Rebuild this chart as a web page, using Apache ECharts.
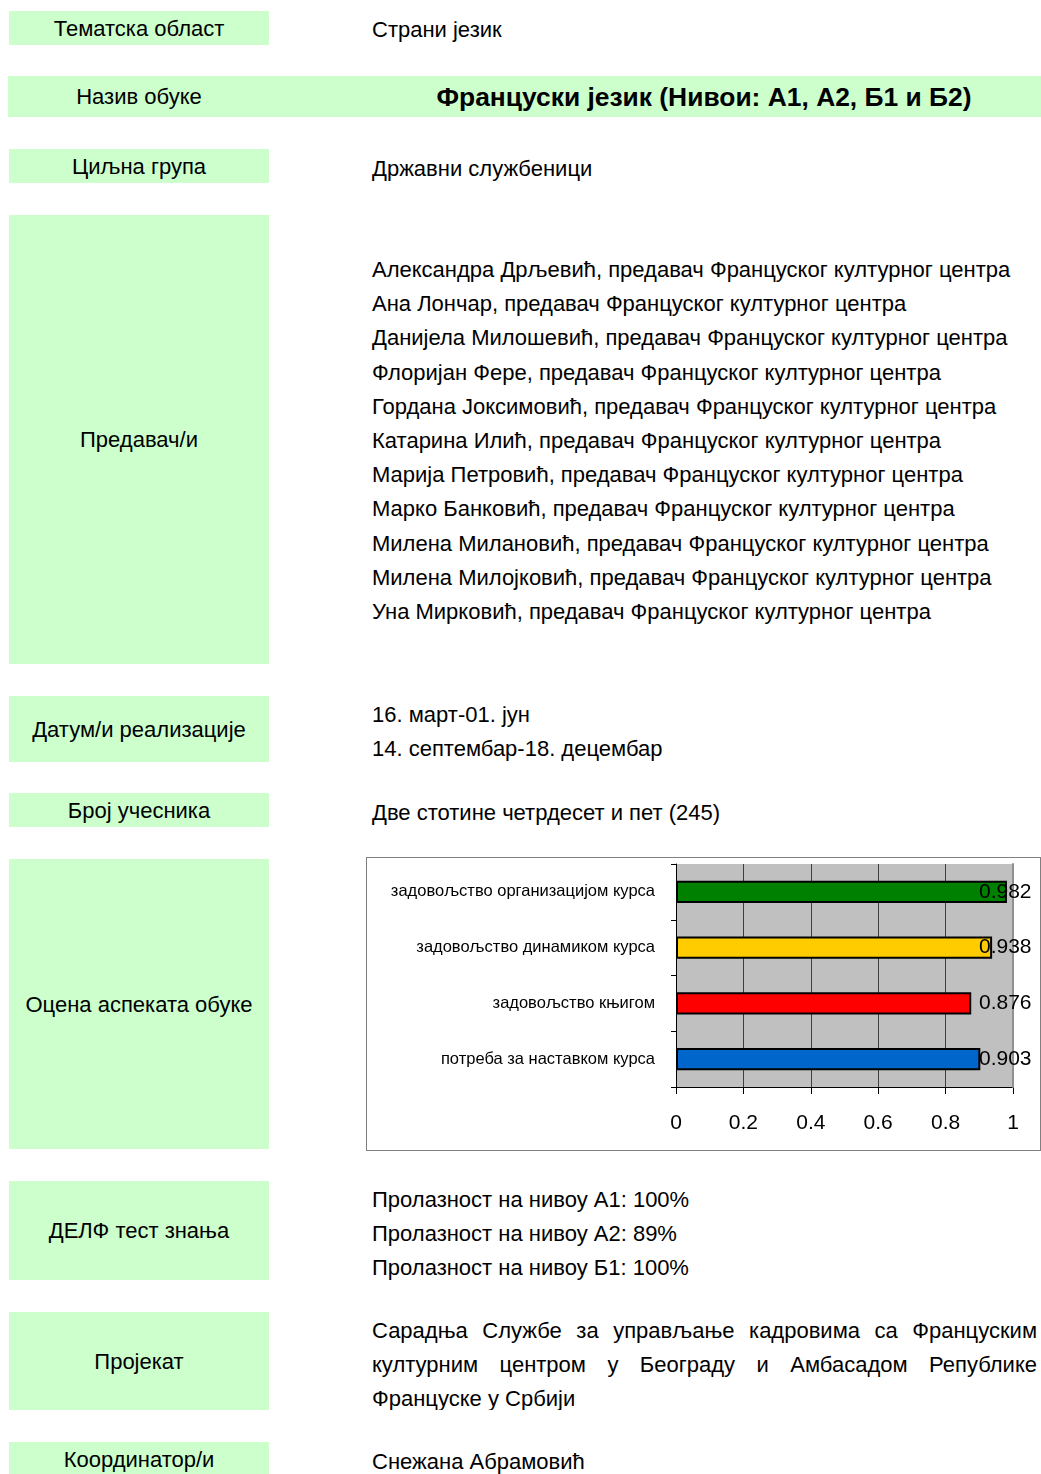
<!DOCTYPE html>
<html>
<head>
<meta charset="utf-8">
<script src="https://cdn.jsdelivr.net/npm/echarts@6/dist/echarts.min.js"></script>
<style>
  body { margin: 0; width: 1041px; height: 1474px; overflow: hidden; background: #fff;
         font-family: 'Liberation Sans', Arial, sans-serif; color: #000; }
  .lbl { position: absolute; left: 9px; width: 260px; background: #ccffcc; display: flex;
         align-items: center; justify-content: center; font-size: 22px; padding-top: 1px; box-sizing: border-box; }
  .txt { position: absolute; left: 372px; font-size: 22px; line-height: 34.2px; white-space: nowrap; }
  .naslov { position: absolute; left: 304px; width: 800px; top: 76px; height: 41px; line-height: 43px;
            text-align: center; font-weight: bold; font-size: 26.4px; white-space: nowrap; }
  .just { position: absolute; left: 372px; top: 1314px; width: 665px; height: 96px; overflow: hidden;
          font-size: 22px; line-height: 34px; }
  .just div { text-align: justify; text-align-last: justify; white-space: nowrap; }
  .just div.last { text-align-last: left; }
  #grafik { position: absolute; left: 366px; top: 857px; width: 673px; height: 292px; border: 1px solid #808080; }
</style>
</head>
<body>
  <div class="lbl" style="top:11px;height:34px">Тематска област</div>
  <div class="txt" style="top:13px">Страни језик</div>

  <div class="lbl" style="left:8px;width:1033px;top:76px;height:41px;justify-content:flex-start">
    <span style="width:262px;text-align:center">Назив обуке</span>
  </div>
  <div class="naslov">Француски језик (Нивои: А1, А2, Б1 и Б2)</div>

  <div class="lbl" style="top:149px;height:34px">Циљна група</div>
  <div class="txt" style="top:152px">Државни службеници</div>

  <div class="lbl" style="top:215px;height:449px">Предавач/и</div>
  <div class="txt" style="top:253px">
    Александра Дрљевић, предавач Француског културног центра<br>
    Ана Лончар, предавач Француског културног центра<br>
    Данијела Милошевић, предавач Француског културног центра<br>
    Флоријан Фере, предавач Француског културног центра<br>
    Гордана Јоксимовић, предавач Француског културног центра<br>
    Катарина Илић, предавач Француског културног центра<br>
    Марија Петровић, предавач Француског културног центра<br>
    Марко Банковић, предавач Француског културног центра<br>
    Милена Милановић, предавач Француског културног центра<br>
    Милена Милојковић, предавач Француског културног центра<br>
    Уна Мирковић, предавач Француског културног центра
  </div>

  <div class="lbl" style="top:696px;height:66px">Датум/и реализације</div>
  <div class="txt" style="top:698px">16. март-01. јун<br>14. септембар-18. децембар</div>

  <div class="lbl" style="top:793px;height:34px">Број учесника</div>
  <div class="txt" style="top:796px">Две стотине четрдесет и пет (245)</div>

  <div class="lbl" style="top:859px;height:290px">Оцена аспеката обуке</div>
  <div id="grafik"></div>

  <div class="lbl" style="top:1181px;height:99px">ДЕЛФ тест знања</div>
  <div class="txt" style="top:1183px">Пролазност на нивоу А1: 100%<br>Пролазност на нивоу А2: 89%<br>Пролазност на нивоу Б1: 100%</div>

  <div class="lbl" style="top:1312px;height:98px">Пројекат</div>
  <div class="just">
    <div>Сарадња Службе за управљање кадровима са Француским</div>
    <div>културним центром у Београду и Амбасадом Републике</div>
    <div class="last">Француске у Србији</div>
  </div>

  <div class="lbl" style="top:1442px;height:40px;align-items:flex-start;padding-top:5px">Координатор/и</div>
  <div class="txt" style="top:1445px">Снежана Абрамовић</div>

<script>
// оцене аспеката обуке (одозго надоле)
var kategorije = ['задовољство организацијом курса', 'задовољство динамиком курса', 'задовољство књигом', 'потреба за наставком курса']
var ocene      = [0.982, 0.938, 0.876, 0.903]
var boje       = ['#008000', '#ffcc00', '#ff0000', '#0066cc']

var chart = echarts.init(document.getElementById('grafik'))
var font  = "'Liberation Sans', Arial, sans-serif"

chart.setOption({
  animation: false,
  grid: {
    left  : 309,
    right : 27,
    top   : 6,
    bottom: 63,
    show: true,
    backgroundColor: '#c0c0c0',
    borderWidth: 0
  },
  xAxis: {
    type    : 'value',
    min     : 0,
    max     : 1,
    interval: 0.2,
    axisLine : { show: true, onZero: false, lineStyle: { color: '#000', width: 1 } },
    axisTick : { show: true, length: 7, lineStyle: { color: '#000' } },
    axisLabel: { color: '#000', fontSize: 21, fontFamily: font, margin: 26 },
    splitLine: { show: true, lineStyle: { color: '#404040', width: 1 } }
  },
  yAxis: [{
    type    : 'category',
    data    : kategorije,
    inverse : true,
    axisLine : { show: true, lineStyle: { color: '#000', width: 1 } },
    axisTick : { show: true, length: 5, lineStyle: { color: '#000' } },
    axisLabel: { color: '#000', fontSize: 16.5, fontFamily: font, margin: 21 }
  }, {
    // вредности као натписи десно од траке
    type    : 'category',
    data    : ocene.map(String),
    inverse : true,
    position: 'right',
    z       : 10,
    axisLine : { show: true, lineStyle: { color: '#909090', width: 2 } },
    axisTick : { show: false },
    axisLabel: { color: '#000', fontSize: 21, fontFamily: font, margin: -34, align: 'left' }
  }],
  series: [{
    type    : 'bar',
    data    : ocene.map(function (v, i) {
      return { value: v, itemStyle: { color: boje[i] } }
    }),
    barWidth: '40%',
    itemStyle: { borderColor: '#000', borderWidth: 2 },
    z: 1
  }]
})
</script>
</body>
</html>
